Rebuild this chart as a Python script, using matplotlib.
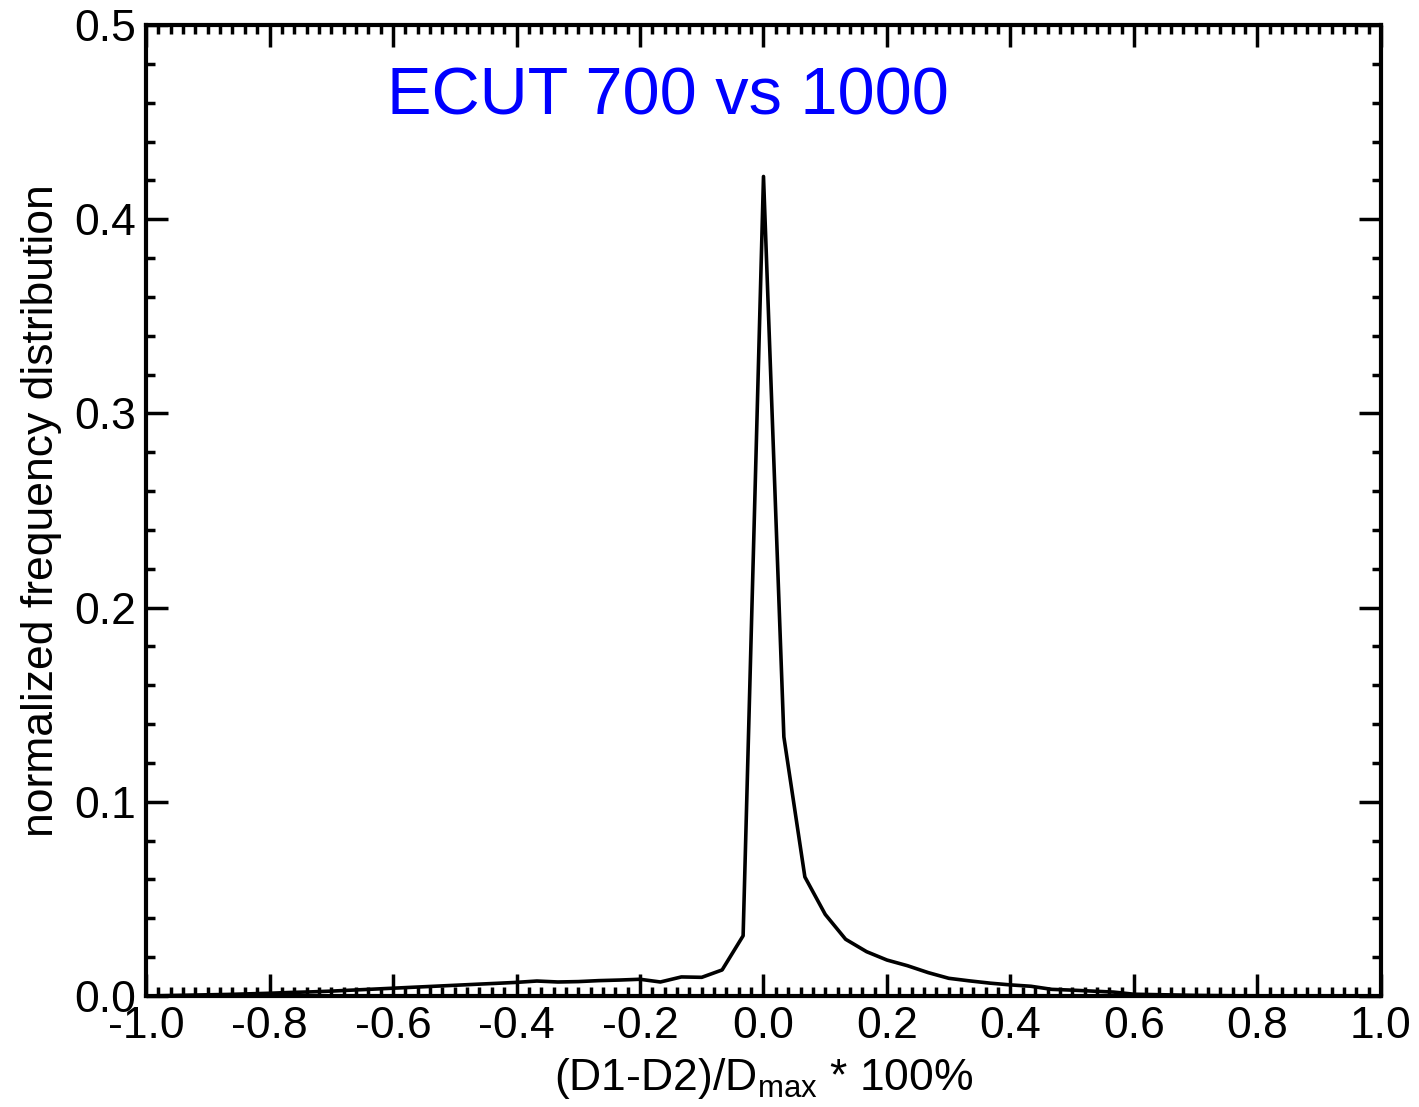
import matplotlib
matplotlib.use("Agg")
import matplotlib.pyplot as plt
from matplotlib.ticker import MultipleLocator

plt.rcParams["font.family"] = ["Liberation Sans", "DejaVu Sans"]
plt.rcParams["mathtext.fontset"] = "custom"
plt.rcParams["mathtext.rm"] = "Liberation Sans"

# bin centres (step 1/30) and normalized frequency
diff_pct = [-1.0, -0.967, -0.933, -0.9, -0.867, -0.833, -0.8, -0.767, -0.733, -0.7,
            -0.667, -0.633, -0.6, -0.567, -0.533, -0.5, -0.467, -0.433, -0.4, -0.367,
            -0.333, -0.3, -0.267, -0.233, -0.2, -0.167, -0.133, -0.1, -0.067, -0.033,
            0.0, 0.033, 0.067, 0.1, 0.133, 0.167, 0.2, 0.233, 0.267, 0.3,
            0.333, 0.367, 0.4, 0.433, 0.467, 0.5, 0.533, 0.567, 0.6, 0.633,
            0.667, 0.7, 0.733, 0.767, 0.8, 0.833, 0.867, 0.9, 0.933, 0.967, 1.0]
freq = [0.0, 0.0002, 0.0004, 0.0006, 0.0008, 0.0011, 0.0014, 0.0018, 0.0021, 0.0025,
        0.003, 0.0035, 0.004, 0.0045, 0.005, 0.0055, 0.006, 0.0065, 0.007, 0.0077,
        0.0072, 0.0074, 0.0079, 0.0082, 0.0086, 0.0072, 0.0098, 0.0096, 0.0134, 0.031,
        0.422, 0.1334, 0.0613, 0.042, 0.0292, 0.0228, 0.0185, 0.0156, 0.012, 0.0091,
        0.0078, 0.0066, 0.0057, 0.005, 0.0034, 0.003, 0.0025, 0.002, 0.0009, 0.0007,
        0.0005, 0.0003, 0.0002, 0.0001, 0.0001, 0.0, 0.0, 0.0, 0.0, 0.0, 0.0]

fig = plt.figure(figsize=(14.19, 11.07), dpi=100)
ax = fig.add_axes([0.1029, 0.1003, 0.8703, 0.8771])

ax.plot(diff_pct, freq, color="black", lw=2.6)

ax.set_xlim(-1.0, 1.0)
ax.set_ylim(0.0, 0.5)
ax.xaxis.set_major_locator(MultipleLocator(0.2))
ax.xaxis.set_minor_locator(MultipleLocator(0.02))
ax.yaxis.set_major_locator(MultipleLocator(0.1))
ax.yaxis.set_minor_locator(MultipleLocator(0.02))
ax.xaxis.set_major_formatter(plt.FuncFormatter(lambda v, p: f"{v:.1f}"))
ax.yaxis.set_major_formatter(plt.FuncFormatter(lambda v, p: f"{v:.1f}"))

ax.tick_params(which="both", direction="in", top=True, right=True,
               labelsize=32, width=2.5)
ax.tick_params(which="major", length=16, pad=7)
ax.tick_params(which="minor", length=6.5)
for s in ax.spines.values():
    s.set_linewidth(3)

ax.set_xlabel(r"(D1-D2)/D$_{\rm max}$ * 100%", fontsize=32)
ax.xaxis.set_label_coords(0.5, -0.062, transform=ax.transAxes)
ax.xaxis.label.set_va("top")
ax.set_ylabel("normalized frequency distribution", fontsize=32)
ax.yaxis.set_label_coords(-0.068, 0.5)

ax.text(-0.61, 0.4537, "ECUT 700 vs 1000", color="blue", fontsize=48,
        ha="left", va="baseline")

fig.savefig("out.png", dpi=100)
